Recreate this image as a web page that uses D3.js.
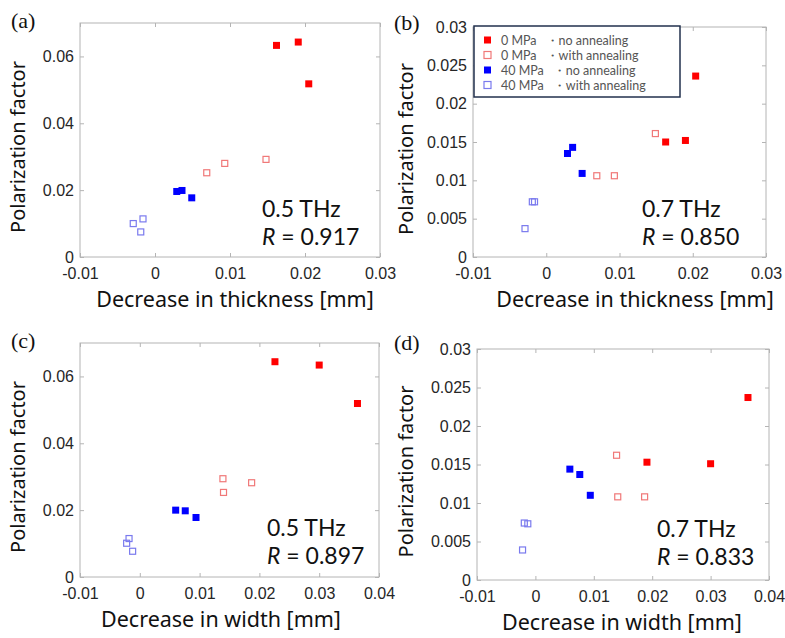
<!DOCTYPE html>
<html>
<head>
<meta charset="utf-8">
<script src="https://cdn.jsdelivr.net/npm/d3@7"></script>
<style>
  body { margin: 0; background: #fff; }
  svg { display: block; }
</style>
</head>
<body>
<div id="chart"></div>
<script>
// data: [decrease, polarization factor]
// (a) thickness vs 0.5 THz
const a_0MPa_noAnneal = [[0.0162, 0.0633], [0.0191, 0.0643], [0.0205, 0.0518]];
const a_0MPa_anneal = [[0.0069, 0.0252], [0.0093, 0.0280], [0.0148, 0.0292]];
const a_40MPa_noAnneal = [[0.0029, 0.0196], [0.0036, 0.0199], [0.0049, 0.0177]];
const a_40MPa_anneal = [[-0.0029, 0.0100], [-0.0016, 0.0114], [-0.0019, 0.0075]];
// (b) thickness vs 0.7 THz
const b_0MPa_noAnneal = [[0.0163, 0.0150], [0.0190, 0.0152], [0.0204, 0.0236]];
const b_0MPa_anneal = [[0.0069, 0.0106], [0.0093, 0.0106], [0.0149, 0.0161]];
const b_40MPa_noAnneal = [[0.0029, 0.0135], [0.0036, 0.0143], [0.0049, 0.0109]];
const b_40MPa_anneal = [[-0.0029, 0.0037], [-0.0019, 0.0072], [-0.0016, 0.0072]];
// (c) width vs 0.5 THz
const c_0MPa_noAnneal = [[0.0226, 0.0644], [0.0300, 0.0634], [0.0364, 0.0519]];
const c_0MPa_anneal = [[0.0139, 0.0294], [0.0140, 0.0253], [0.0187, 0.0282]];
const c_40MPa_noAnneal = [[0.0060, 0.0200], [0.0076, 0.0198], [0.0094, 0.0178]];
const c_40MPa_anneal = [[-0.0022, 0.0101], [-0.0018, 0.0115], [-0.0012, 0.0077]];
// (d) width vs 0.7 THz
const d_0MPa_noAnneal = [[0.0191, 0.0153], [0.0300, 0.0151], [0.0364, 0.0237]];
const d_0MPa_anneal = [[0.0139, 0.0162], [0.0141, 0.0108], [0.0187, 0.0108]];
const d_40MPa_noAnneal = [[0.0059, 0.0144], [0.0076, 0.0137], [0.0094, 0.0110]];
const d_40MPa_anneal = [[-0.0022, 0.0039], [-0.0019, 0.0074], [-0.0013, 0.0073]];

const xTicksThick = [-0.01, 0, 0.01, 0.02, 0.03];
const xTicksWidth = [-0.01, 0, 0.01, 0.02, 0.03, 0.04];
const yTicks05 = [0, 0.02, 0.04, 0.06];
const yTicks07 = [0, 0.005, 0.01, 0.015, 0.02, 0.025, 0.03];

const legendPressure = ["0 MPa", "0 MPa", "40 MPa", "40 MPa"];
const legendTreatment = ["・no annealing", "・with annealing", "・no annealing", "・with annealing"];

// marker styles for the four groups
const styles = [
  { fill: "#ff0000", stroke: "#ff0000" },
  { fill: "none", stroke: "#f07878" },
  { fill: "#0000ff", stroke: "#0000ff" },
  { fill: "none", stroke: "#7a7aee" }
];

const panels = [
  { tag: "(a)", tagPos: [11, 28], box: [80, 23, 380, 257], xd: [-0.01, 0.03], yd: [0, 0.07], xt: xTicksThick, yt: yTicks05,
    groups: [a_0MPa_noAnneal, a_0MPa_anneal, a_40MPa_noAnneal, a_40MPa_anneal],
    xlab: "Decrease in thickness [mm]", xlabX: 235, ylabX: 25,
    freq: "0.5 THz", r: "0.917", note: [262, 217] },
  { tag: "(b)", tagPos: [394, 30], box: [473, 27, 766, 257], xd: [-0.01, 0.03], yd: [0, 0.03], xt: xTicksThick, yt: yTicks07,
    groups: [b_0MPa_noAnneal, b_0MPa_anneal, b_40MPa_noAnneal, b_40MPa_anneal],
    xlab: "Decrease in thickness [mm]", xlabX: 635, ylabX: 413,
    freq: "0.7 THz", r: "0.850", note: [642, 217] },
  { tag: "(c)", tagPos: [11, 348], box: [80, 343, 379, 577], xd: [-0.01, 0.04], yd: [0, 0.07], xt: xTicksWidth, yt: yTicks05,
    groups: [c_0MPa_noAnneal, c_0MPa_anneal, c_40MPa_noAnneal, c_40MPa_anneal],
    xlab: "Decrease in width [mm]", xlabX: 221, ylabX: 25,
    freq: "0.5 THz", r: "0.897", note: [267, 536] },
  { tag: "(d)", tagPos: [394, 350], box: [477, 349, 769, 580], xd: [-0.01, 0.04], yd: [0, 0.03], xt: xTicksWidth, yt: yTicks07,
    groups: [d_0MPa_noAnneal, d_0MPa_anneal, d_40MPa_noAnneal, d_40MPa_anneal],
    xlab: "Decrease in width [mm]", xlabX: 622, ylabX: 413,
    freq: "0.7 THz", r: "0.833", note: [657, 537] }
];

const svg = d3.select("#chart").append("svg")
  .attr("width", 785).attr("height", 638);

// MATLAB-like tick labels: plain hyphen minus, no trailing zeros
const fmt = d => d === 0 ? "0" : String(+d.toFixed(3));

panels.forEach(function (p) {
  const [x0, y0, x1, y1] = p.box;
  const x = d3.scaleLinear().domain(p.xd).range([x0, x1]);
  const y = d3.scaleLinear().domain(p.yd).range([y1, y0]);
  const g = svg.append("g");

  // box
  g.append("rect")
    .attr("x", x0).attr("y", y0).attr("width", x1 - x0).attr("height", y1 - y0)
    .attr("fill", "none").attr("stroke", "#b4b4b4").attr("stroke-width", 1);

  // axes with inward ticks (bottom/left carry labels)
  const axStyle = function (sel) {
    sel.select(".domain").remove();
    sel.selectAll(".tick line").attr("stroke", "#b4b4b4");
    sel.selectAll(".tick text").attr("fill", "#262626")
      .style("font-family", "'Liberation Sans', Arial, sans-serif").style("font-size", "16px");
  };
  g.append("g").attr("transform", `translate(0,${y1})`)
    .call(d3.axisBottom(x).tickValues(p.xt).tickFormat(fmt).tickSizeInner(-4).tickPadding(11))
    .call(axStyle);
  g.append("g").attr("transform", `translate(0,${y0})`)
    .call(d3.axisTop(x).tickValues(p.xt).tickFormat("").tickSizeInner(-4))
    .call(axStyle);
  g.append("g").attr("transform", `translate(${x0},0)`)
    .call(d3.axisLeft(y).tickValues(p.yt).tickFormat(fmt).tickSizeInner(-4).tickPadding(6))
    .call(axStyle);
  g.append("g").attr("transform", `translate(${x1},0)`)
    .call(d3.axisRight(y).tickValues(p.yt).tickFormat("").tickSizeInner(-4))
    .call(axStyle);

  // markers
  p.groups.forEach(function (pts, i) {
    const st = styles[i];
    const open = st.fill === "none";
    const s = open ? 6 : 7;
    g.selectAll(null).data(pts).enter().append("rect")
      .attr("x", d => x(d[0]) - s / 2)
      .attr("y", d => y(d[1]) - s / 2)
      .attr("width", s).attr("height", s)
      .attr("fill", open ? "none" : st.fill)
      .attr("stroke", st.stroke)
      .attr("stroke-width", open ? 1.2 : 0);
  });

  // axis labels
  g.append("text")
    .attr("x", p.xlabX).attr("y", y1 + 50)
    .attr("text-anchor", "middle")
    .style("font-family", "'Noto Sans', sans-serif").style("font-size", "21.5px")
    .attr("fill", "#111")
    .text(p.xlab);
  g.append("text")
    .attr("transform", `translate(${p.ylabX},${(y0 + y1) / 2 + 7}) rotate(-90)`)
    .attr("text-anchor", "middle")
    .style("font-family", "'Noto Sans', sans-serif").style("font-size", "20px")
    .attr("fill", "#111")
    .text("Polarization factor");

  // panel tag
  g.append("text")
    .attr("x", p.tagPos[0]).attr("y", p.tagPos[1])
    .style("font-family", "'Liberation Serif', 'Times New Roman', serif").style("font-size", "22px")
    .attr("fill", "#111")
    .text(p.tag);

  // frequency and correlation
  const note = g.append("g")
    .style("font-family", "Lato, 'Noto Sans', sans-serif").style("font-size", "23px").attr("fill", "#111");
  note.append("text").attr("x", p.note[0]).attr("y", p.note[1]).text(p.freq);
  const rt = note.append("text").attr("x", p.note[0]).attr("y", p.note[1] + 28);
  rt.append("tspan").style("font-style", "italic").text("R");
  rt.append("tspan").text(" = " + p.r);
});

// legend in panel (b)
const leg = svg.append("g")
  .style("font-family", "Lato, 'Noto Sans', sans-serif").style("font-size", "12.5px");
leg.append("rect")
  .attr("x", 474).attr("y", 26).attr("width", 206).attr("height", 71)
  .attr("fill", "#fff").attr("stroke", "#22304d").attr("stroke-width", 1.5);
legendPressure.forEach(function (lab, i) {
  const st = styles[i];
  const open = st.fill === "none";
  const cy = 40 + i * 15;
  leg.append("rect")
    .attr("x", 484).attr("y", cy - 3.5).attr("width", 7).attr("height", 7)
    .attr("fill", open ? "none" : st.fill)
    .attr("stroke", st.stroke).attr("stroke-width", open ? 1.2 : 0);
  const t = leg.append("text")
    .attr("x", 501).attr("y", cy + 4.5)
    .attr("fill", "#555");
  t.append("tspan").text(lab);
  t.append("tspan").attr("dx", 9).text(legendTreatment[i]);
});
</script>
</body>
</html>
